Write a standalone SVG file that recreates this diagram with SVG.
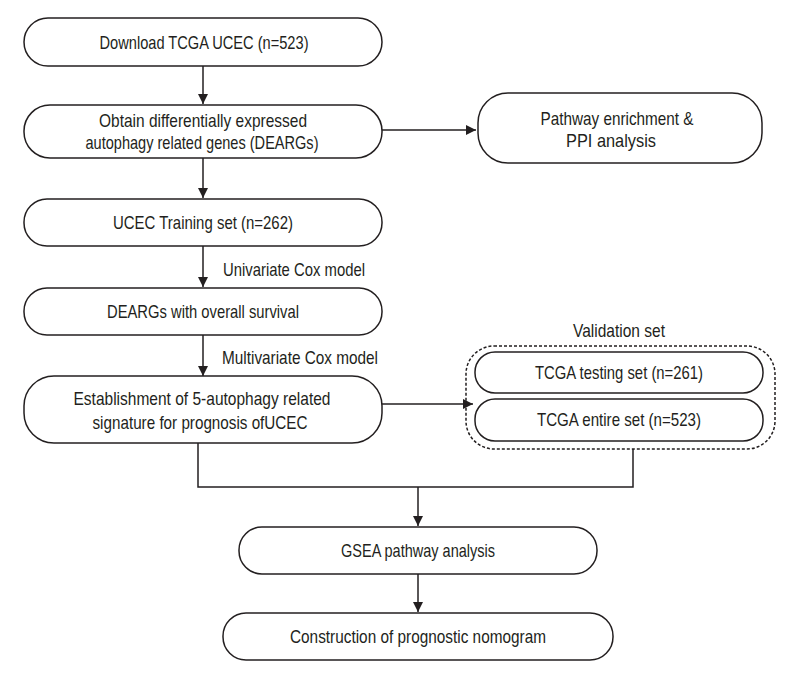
<svg xmlns="http://www.w3.org/2000/svg" width="800" height="680" viewBox="0 0 800 680">
<style>
.box{fill:#fff;stroke:#231f20;stroke-width:1.5}
.dash{fill:none;stroke:#231f20;stroke-width:1.5;stroke-dasharray:3 2}
.ln{fill:none;stroke:#231f20;stroke-width:1.5}
text{font-family:"Liberation Sans",Arial,sans-serif;font-size:19px;fill:#231f20;text-anchor:middle;dominant-baseline:central}
.lab{text-anchor:start}
</style>
<defs>
<marker id="ah" viewBox="0 0 10 10" refX="10" refY="5" markerWidth="10" markerHeight="10" markerUnits="userSpaceOnUse" orient="auto">
<path d="M0,0 L10,5 L0,10 Z" fill="#231f20"/>
</marker>
</defs>
<rect width="800" height="680" fill="#fff"/>
<g id="connectors">
<line class="ln" x1="203" y1="66" x2="203" y2="104" marker-end="url(#ah)"/>
<line class="ln" x1="382" y1="130" x2="476" y2="130" marker-end="url(#ah)"/>
<line class="ln" x1="203" y1="158" x2="203" y2="198" marker-end="url(#ah)"/>
<line class="ln" x1="203" y1="246" x2="203" y2="287" marker-end="url(#ah)"/>
<line class="ln" x1="203" y1="335" x2="203" y2="376" marker-end="url(#ah)"/>
<line class="ln" x1="382" y1="404" x2="473" y2="404" marker-end="url(#ah)"/>
<polyline class="ln" points="198,443 198,487 633,487 633,449"/>
<line class="ln" x1="418" y1="487" x2="418" y2="526" marker-end="url(#ah)"/>
<line class="ln" x1="418" y1="574" x2="418" y2="612" marker-end="url(#ah)"/>
<text class="lab" x="223" y="269" textLength="142" lengthAdjust="spacingAndGlyphs">Univariate Cox model</text>
<text class="lab" x="222" y="357" textLength="156" lengthAdjust="spacingAndGlyphs">Multivariate Cox model</text>
</g>
<g id="n1"><rect class="box" x="24" y="18" width="358" height="48" rx="24"/><text x="204" y="42" textLength="209" lengthAdjust="spacingAndGlyphs">Download TCGA UCEC (n=523)</text></g>
<g id="n2"><rect class="box" x="24" y="105" width="358" height="53" rx="26"/><text x="203" y="120" textLength="208" lengthAdjust="spacingAndGlyphs">Obtain differentially expressed</text><text x="202" y="142" textLength="233" lengthAdjust="spacingAndGlyphs">autophagy related genes (DEARGs)</text></g>
<g id="n3"><rect class="box" x="478" y="93" width="284" height="70" rx="30"/><text x="617" y="118" textLength="153" lengthAdjust="spacingAndGlyphs">Pathway enrichment &amp;</text><text x="611" y="140" textLength="90" lengthAdjust="spacingAndGlyphs">PPI analysis</text></g>
<g id="n4"><rect class="box" x="24" y="199" width="358" height="47" rx="23"/><text x="203" y="222" textLength="180" lengthAdjust="spacingAndGlyphs">UCEC Training set (n=262)</text></g>
<g id="n5"><rect class="box" x="24" y="288" width="358" height="47" rx="23"/><text x="203" y="311" textLength="192" lengthAdjust="spacingAndGlyphs">DEARGs with overall survival</text></g>
<g id="n6"><rect class="box" x="24" y="376" width="358" height="67" rx="30"/><text x="202" y="398" textLength="257" lengthAdjust="spacingAndGlyphs">Establishment of 5-autophagy related</text><text x="200" y="422" textLength="215" lengthAdjust="spacingAndGlyphs">signature for prognosis ofUCEC</text></g>
<g id="validation"><rect class="dash" x="466" y="346" width="309" height="103" rx="28"/><text x="619" y="330" textLength="92" lengthAdjust="spacingAndGlyphs">Validation set</text></g>
<g id="n7"><rect class="box" x="475" y="352" width="288" height="41" rx="20"/><text x="619" y="372" textLength="168" lengthAdjust="spacingAndGlyphs">TCGA testing set (n=261)</text></g>
<g id="n8"><rect class="box" x="475" y="399" width="288" height="42" rx="20"/><text x="619" y="419" textLength="164" lengthAdjust="spacingAndGlyphs">TCGA entire set (n=523)</text></g>
<g id="n9"><rect class="box" x="239" y="527" width="358" height="47" rx="23"/><text x="418" y="550" textLength="154" lengthAdjust="spacingAndGlyphs">GSEA pathway analysis</text></g>
<g id="n10"><rect class="box" x="223" y="613" width="390" height="47" rx="23"/><text x="418" y="636" textLength="256" lengthAdjust="spacingAndGlyphs">Construction of prognostic nomogram</text></g>
</svg>
